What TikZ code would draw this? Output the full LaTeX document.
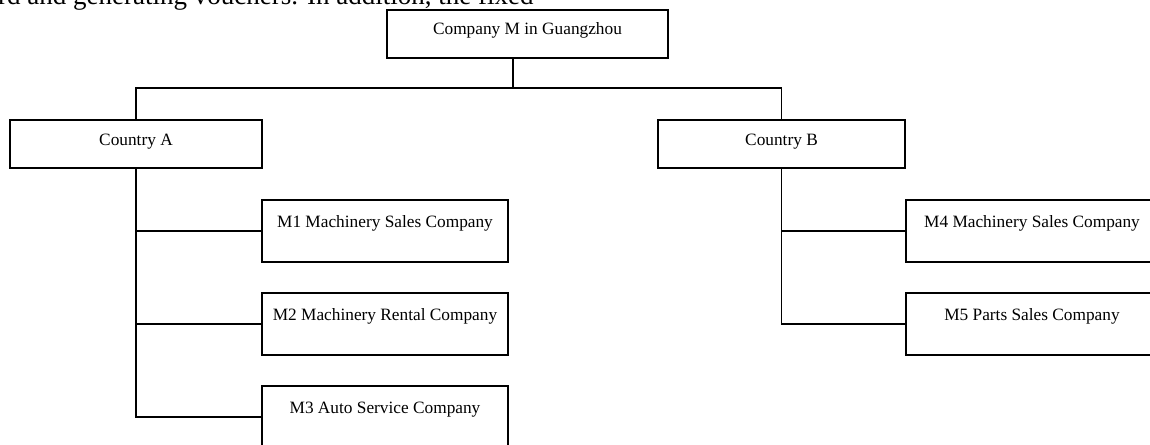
\documentclass[tikz,border=0pt]{standalone}
\usepackage{fontspec}
\setmainfont{Liberation Serif}
\begin{document}
\begin{tikzpicture}[x=1pt, y=-1pt,
    unit/.style={draw, line width=1.1pt, anchor=north west, inner xsep=0pt, inner ysep=0pt,
        outer sep=0pt, font=\fontsize{17.3}{20}\selectfont},
    flat/.style={unit, minimum height=48pt, text height=25pt, text depth=23pt},
    tall/.style={unit, minimum width=246pt, minimum height=62pt, text height=27pt, text depth=35pt},
    link/.style={line width=1.1pt}]

    \useasboundingbox (0,0) rectangle (1150,444);

    % Running text cut off at the top of the page
    \node[anchor=base west, inner sep=0pt, font=\fontsize{27}{30}\selectfont] (para) at (-2,5)
        {rd and generating vouchers. In addition, the fixed};

    % Head office and the two countries
    \node[flat, minimum width=281pt] (hq) at (387,10) {Company M in Guangzhou};
    \node[flat, minimum width=252pt] (ca) at (10,120) {Country A};
    \node[flat, minimum width=247pt] (cb) at (658,120) {Country B};

    % Subsidiaries
    \node[tall] (m1) at (262,200) {M1 Machinery Sales Company};
    \node[tall] (m2) at (262,293) {M2 Machinery Rental Company};
    \node[tall] (m3) at (262,386) {M3 Auto Service Company};
    \node[tall, minimum width=252pt] (m4) at (906,200) {M4 Machinery Sales Company};
    \node[tall, minimum width=252pt] (m5) at (906,293) {M5 Parts Sales Company};

    % Tree lines
    \coordinate (hub) at (513,88);
    \draw[link] (hq.south -| hub) -- (hub);
    \draw[link] (ca.north) |- (hub) -| (cb.north);
    \draw[link] (ca.south) |- (m3.west);
    \foreach \m in {m1,m2}
        \draw[link] (ca.south |- \m.west) -- (\m.west);
    \draw[link] (cb.south) |- (m5.west);
    \draw[link] (cb.south |- m4.west) -- (m4.west);

\end{tikzpicture}
\end{document}
